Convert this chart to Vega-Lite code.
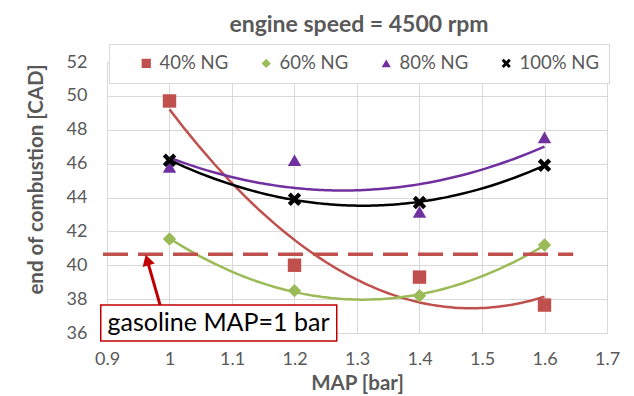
{
  "$schema": "https://vega.github.io/schema/vega-lite/v6.json",
  "width": 500,
  "height": 271,
  "autosize": {"type": "none"},
  "padding": {"left": 107, "top": 62, "right": 27, "bottom": 63},
  "background": "white",
  "config": {"view": {"stroke": null}, "font": "Lato"},
  "title": {"text": "engine speed = 4500 rpm", "font": "Lato", "fontSize": 23, "fontWeight": "bold", "color": "#595959", "frame": "group", "anchor": "middle", "baseline": "alphabetic", "offset": 12, "dx": 2, "dy": 23},
  "datasets": {
    "pts": [
      {"series": "40% NG", "x": 1.0, "y": 49.7},
      {"series": "40% NG", "x": 1.2, "y": 40.0},
      {"series": "40% NG", "x": 1.4, "y": 39.3},
      {"series": "40% NG", "x": 1.6, "y": 37.65},
      {"series": "60% NG", "x": 1.0, "y": 41.55},
      {"series": "60% NG", "x": 1.2, "y": 38.5},
      {"series": "60% NG", "x": 1.4, "y": 38.2},
      {"series": "60% NG", "x": 1.6, "y": 41.2},
      {"series": "80% NG", "x": 1.0, "y": 45.8},
      {"series": "80% NG", "x": 1.2, "y": 46.2},
      {"series": "80% NG", "x": 1.4, "y": 43.15},
      {"series": "80% NG", "x": 1.6, "y": 47.55},
      {"series": "100% NG", "x": 1.0, "y": 46.2},
      {"series": "100% NG", "x": 1.2, "y": 43.9},
      {"series": "100% NG", "x": 1.4, "y": 43.7},
      {"series": "100% NG", "x": 1.6, "y": 45.9}
    ],
    "ref": [{"x": 0.8936, "x2": 1.646, "y": 40.65}],
    "arrow": [{"x": 0.985, "y": 37.65, "x2": 0.9643, "y2": 40.31}],
    "head": [{"x": 0.9643, "y": 40.31}],
    "note": [{"x": 0.890, "x2": 1.2676, "y": 37.65, "y2": 35.53, "tx": 1.0784, "ty": 36.59, "label": "gasoline MAP=1 bar"}]
  },
  "encoding": {
    "x": {"field": "x", "type": "quantitative", "scale": {"domain": [0.9, 1.7], "nice": false, "zero": false},
      "axis": {"title": "MAP [bar]", "values": [0.9, 1, 1.1, 1.2, 1.3, 1.4, 1.5, 1.6, 1.7], "format": "~g", "grid": true, "gridColor": "#d9d9d9", "gridWidth": 1, "domainColor": "#d9d9d9", "ticks": false, "tickSize": 0, "labelPadding": 17, "labelFontSize": 18, "labelColor": "#595959", "labelFont": "Lato", "titleFont": "Lato", "titleFontSize": 20.5, "titleFontWeight": "bold", "titleColor": "#595959", "titlePadding": 5, "labelFlush": false, "labelOverlap": false}},
    "y": {"field": "y", "type": "quantitative", "scale": {"domain": [36, 52], "nice": false, "zero": false},
      "axis": {"title": "end of combustion [CAD]", "values": [36, 38, 40, 42, 44, 46, 48, 50, 52], "grid": true, "gridColor": "#d9d9d9", "gridWidth": 1, "domainColor": "#d9d9d9", "ticks": false, "tickSize": 0, "labelPadding": 20, "labelFontSize": 18, "labelColor": "#595959", "labelFont": "Lato", "titleFont": "Lato", "titleFontSize": 20.5, "titleFontWeight": "bold", "titleColor": "#595959", "titlePadding": 20, "titleY": 117, "labelOverlap": false}}
  },
  "layer": [
    {
      "data": {"name": "pts"},
      "transform": [{"regression": "y", "on": "x", "groupby": ["series"], "method": "poly", "order": 2, "extent": [1, 1.6]}],
      "mark": {"type": "line", "strokeWidth": 2.5},
      "encoding": {
        "color": {"field": "series", "type": "nominal", "scale": {"domain": ["40% NG", "60% NG", "80% NG", "100% NG"], "range": ["#c0504d", "#9bbb59", "#7030a0", "#000000"]}}
      }
    },
    {
      "data": {"name": "ref"},
      "mark": {"type": "rule", "color": "#c0504d", "strokeWidth": 3.5, "strokeDash": [25, 10]},
      "encoding": {
        "x2": {"field": "x2"}
      }
    },
    {
      "data": {"name": "pts"},
      "mark": {"type": "point", "filled": true, "opacity": 1, "size": 180, "strokeWidth": 0},
      "encoding": {
        "color": {"field": "series", "type": "nominal", "scale": {"domain": ["40% NG", "60% NG", "80% NG", "100% NG"], "range": ["#c0504d", "#9bbb59", "#7030a0", "#000000"]},
          "legend": {"orient": "none", "legendX": 2, "legendY": -18, "direction": "horizontal", "columns": 4, "title": " ", "titleOrient": "left", "titlePadding": 18, "fillColor": "white", "strokeColor": "#d9d9d9", "padding": 10, "labelFont": "Lato", "labelFontSize": 18.5, "labelColor": "#595959", "symbolSize": 85, "symbolStrokeWidth": 0, "symbolOpacity": 1, "columnPadding": 28, "labelOffset": 4, "gridAlign": "each"}},
        "shape": {"field": "series", "type": "nominal", "scale": {"domain": ["40% NG", "60% NG", "80% NG", "100% NG"], "range": ["square", "diamond", "triangle-up", "M-0.55,-1L0,-0.45L0.55,-1L1,-0.55L0.45,0L1,0.55L0.55,1L0,0.45L-0.55,1L-1,0.55L-0.45,0L-1,-0.55Z"]}}
      }
    },
    {
      "data": {"name": "arrow"},
      "mark": {"type": "rule", "color": "#c00000", "strokeWidth": 3},
      "encoding": {
        "x2": {"field": "x2"},
        "y2": {"field": "y2"}
      }
    },
    {
      "data": {"name": "head"},
      "mark": {"type": "point", "shape": "triangle-up", "filled": true, "opacity": 1, "color": "#c00000", "size": 160, "angle": -16, "strokeWidth": 0},
      "encoding": {}
    },
    {
      "data": {"name": "note"},
      "mark": {"type": "rect", "fill": "white", "stroke": "#c00000", "strokeWidth": 1.5},
      "encoding": {
        "x2": {"field": "x2"},
        "y2": {"field": "y2"}
      }
    },
    {
      "data": {"name": "note"},
      "mark": {"type": "text", "font": "Lato", "fontSize": 25, "color": "#000000", "align": "center", "baseline": "middle"},
      "encoding": {
        "x": {"field": "tx", "type": "quantitative"},
        "y": {"field": "ty", "type": "quantitative"},
        "text": {"field": "label"}
      }
    }
  ]
}
